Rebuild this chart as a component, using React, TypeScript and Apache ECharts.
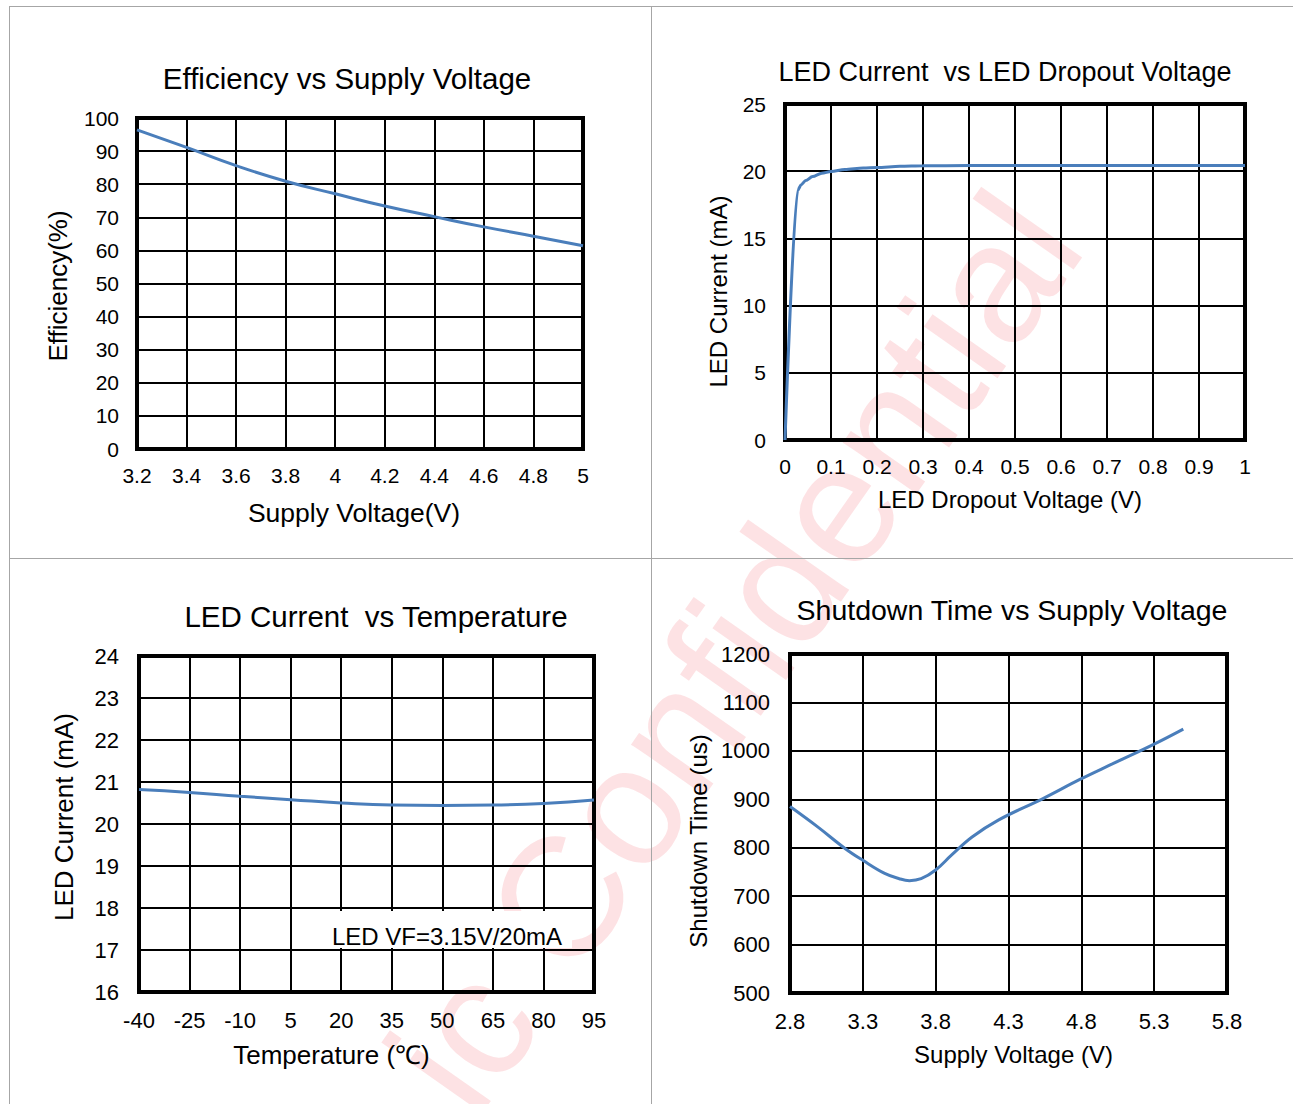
import React, { useEffect, useRef } from 'react';
import * as echarts from 'echarts';

const FONT = '"Liberation Sans", Arial, Helvetica, sans-serif';
const BLUE = '#4a7ebb';

// Chart 1: Efficiency vs Supply Voltage
const effVoltageTicks = ['3.2', '3.4', '3.6', '3.8', '4', '4.2', '4.4', '4.6', '4.8', '5'];
const efficiencyValues = [96.4, 91.1, 85.6, 80.9, 77.1, 73.4, 70.2, 67.1, 64.3, 61.4];

// Chart 2: LED Current vs LED Dropout Voltage
const dropoutVoltage = [0, 0.028, 0.035, 0.045, 0.06, 0.08, 0.1, 0.13, 0.17, 0.2, 0.25, 0.3, 0.4, 0.5, 0.6, 0.7, 0.8, 0.9, 1.0];
const dropoutCurrent = [0, 18.6, 19.0, 19.3, 19.6, 19.85, 19.98, 20.12, 20.23, 20.28, 20.36, 20.4, 20.42, 20.42, 20.42, 20.42, 20.42, 20.42, 20.42];

// Chart 3: LED Current vs Temperature
const temperatureTicks = ['-40', '-25', '-10', '5', '20', '35', '50', '65', '80', '95'];
const temperatureCurrent = [20.82, 20.75, 20.66, 20.58, 20.5, 20.45, 20.44, 20.45, 20.49, 20.57];

// Chart 4: Shutdown Time vs Supply Voltage
const supplyTicks = ['2.8', '3.3', '3.8', '4.3', '4.8', '5.3', '5.8'];
const shutdownVoltage = [2.8, 2.99, 3.18, 3.3, 3.45, 3.55, 3.62, 3.7, 3.8, 3.91, 4.05, 4.23, 4.54, 4.79, 5.02, 5.3, 5.5];
const shutdownTime = [885, 843, 798, 774, 747, 736, 732, 736, 754, 785, 822, 857, 902, 941, 974, 1014, 1045];

const titles = [
  { text: 'Efficiency vs Supply Voltage', x: 347, y: 78, size: 29.5 },
  { text: 'LED Current  vs LED Dropout Voltage', x: 1005, y: 72, size: 27 },
  { text: 'LED Current  vs Temperature', x: 376, y: 616, size: 29.5 },
  { text: 'Shutdown Time vs Supply Voltage', x: 1012, y: 610, size: 28.5 },
];

const splitLine = { show: true, interval: 0, lineStyle: { color: '#000', width: 2 } };

function nameStyle(size: number, padding: number[]) {
  return { color: '#000', fontSize: size, fontFamily: FONT, padding };
}
function labelStyle(size: number, margin: number) {
  return { color: '#000', fontSize: size, fontFamily: FONT, margin, interval: 0 };
}

function buildOption() {
  const grids = [
    { left: 137, top: 118, width: 446, height: 331 },
    { left: 785, top: 104, width: 460, height: 336 },
    { left: 139, top: 656, width: 455, height: 336 },
    { left: 790, top: 654, width: 437, height: 339 },
  ].map((g) => ({ ...g, show: true, borderColor: '#000', borderWidth: 4, backgroundColor: 'transparent' }));

  const xAxis = [
    {
      type: 'category', gridIndex: 0, data: effVoltageTicks, boundaryGap: false,
      axisLine: { show: false }, axisTick: { show: false }, splitLine,
      axisLabel: labelStyle(21, 16),
      name: 'Supply Voltage(V)', nameLocation: 'middle', nameGap: 50,
      nameTextStyle: nameStyle(26.5, [0, 12, 0, 0]),
    },
    {
      type: 'value', gridIndex: 1, min: 0, max: 1, interval: 0.1,
      axisLine: { show: false }, axisTick: { show: false }, splitLine,
      axisLabel: labelStyle(21, 16),
      name: 'LED Dropout Voltage (V)', nameLocation: 'middle', nameGap: 47,
      nameTextStyle: nameStyle(24, [0, 10, 0, 0]),
    },
    {
      type: 'category', gridIndex: 2, data: temperatureTicks, boundaryGap: false,
      axisLine: { show: false }, axisTick: { show: false }, splitLine,
      axisLabel: labelStyle(22, 17),
      name: 'Temperature (℃)', nameLocation: 'middle', nameGap: 50,
      nameTextStyle: nameStyle(26, [0, 70, 0, 0]),
    },
    {
      type: 'category', gridIndex: 3, data: supplyTicks, boundaryGap: false,
      axisLine: { show: false }, axisTick: { show: false }, splitLine,
      axisLabel: labelStyle(22, 17),
      name: 'Supply Voltage (V)', nameLocation: 'middle', nameGap: 49,
      nameTextStyle: nameStyle(24, [0, 0, 0, 10]),
    },
    {
      type: 'value', gridIndex: 3, min: 2.8, max: 5.8, show: false,
      splitLine: { show: false },
    },
  ];

  const yAxis = [
    {
      type: 'value', gridIndex: 0, min: 0, max: 100, interval: 10,
      axisLine: { show: false }, axisTick: { show: false }, splitLine,
      axisLabel: labelStyle(21, 18),
      name: 'Efficiency(%)', nameLocation: 'middle', nameGap: 66,
      nameTextStyle: nameStyle(26, [0, 5, 0, 0]),
    },
    {
      type: 'value', gridIndex: 1, min: 0, max: 25, interval: 5,
      axisLine: { show: false }, axisTick: { show: false }, splitLine,
      axisLabel: labelStyle(21, 19),
      name: 'LED Current (mA)', nameLocation: 'middle', nameGap: 55,
      nameTextStyle: nameStyle(24, [0, 39, 0, 0]),
    },
    {
      type: 'value', gridIndex: 2, min: 16, max: 24, interval: 1,
      axisLine: { show: false }, axisTick: { show: false }, splitLine,
      axisLabel: labelStyle(22, 20),
      name: 'LED Current (mA)', nameLocation: 'middle', nameGap: 62,
      nameTextStyle: nameStyle(26, [0, 0, 0, 14]),
    },
    {
      type: 'value', gridIndex: 3, min: 500, max: 1200, interval: 100,
      axisLine: { show: false }, axisTick: { show: false }, splitLine,
      axisLabel: { ...labelStyle(22, 20), formatter: (v: number) => String(v) },
      name: 'Shutdown Time (us)', nameLocation: 'middle', nameGap: 80,
      nameTextStyle: nameStyle(24, [0, 35, 0, 0]),
    },
  ];

  const lineBase = {
    type: 'line', showSymbol: false, symbol: 'none', clip: false,
    lineStyle: { color: BLUE, width: 3 }, itemStyle: { color: BLUE }, z: 3,
  };

  const series = [
    { ...lineBase, xAxisIndex: 0, yAxisIndex: 0, smooth: true, data: efficiencyValues },
    {
      ...lineBase, xAxisIndex: 1, yAxisIndex: 1, smooth: 0.3, smoothMonotone: 'x',
      data: dropoutVoltage.map((v, i) => [v, dropoutCurrent[i]]),
    },
    { ...lineBase, xAxisIndex: 2, yAxisIndex: 2, smooth: true, data: temperatureCurrent },
    {
      ...lineBase, xAxisIndex: 4, yAxisIndex: 3, smooth: 0.4,
      data: shutdownVoltage.map((v, i) => [v, shutdownTime[i]]),
    },
  ];

  const borderStyle = { stroke: '#a6a6a6', lineWidth: 1 };
  const graphic: any[] = [
    {
      type: 'text', z: -10, x: 1110, y: 263, rotation: (55 * Math.PI) / 180,
      silent: true,
      style: {
        text: 'ic Confidential', fill: 'rgba(240,30,50,0.13)',
        fontSize: 170, fontFamily: FONT, align: 'right', verticalAlign: 'bottom',
        textAlign: 'right', textVerticalAlign: 'bottom',
      },
    },
    { type: 'line', z: -5, shape: { x1: 9, y1: 6.5, x2: 1293, y2: 6.5 }, style: borderStyle },
    { type: 'line', z: -5, shape: { x1: 9.5, y1: 6, x2: 9.5, y2: 1104 }, style: borderStyle },
    { type: 'line', z: -5, shape: { x1: 651.5, y1: 6, x2: 651.5, y2: 1104 }, style: borderStyle },
    { type: 'line', z: -5, shape: { x1: 9, y1: 558.5, x2: 1293, y2: 558.5 }, style: borderStyle },
    ...titles.map((t) => ({
      type: 'text', x: t.x, y: t.y, z: 10,
      style: {
        text: t.text, fill: '#000', fontSize: t.size, fontFamily: FONT,
        align: 'center', verticalAlign: 'middle', textAlign: 'center', textVerticalAlign: 'middle',
      },
    })),
    { type: 'rect', z: 10, shape: { x: 326, y: 911, width: 246, height: 37 }, style: { fill: '#fff' } },
    {
      type: 'text', x: 447, y: 936, z: 11,
      style: {
        text: 'LED VF=3.15V/20mA', fill: '#000', fontSize: 24, fontFamily: FONT,
        align: 'center', verticalAlign: 'middle', textAlign: 'center', textVerticalAlign: 'middle',
      },
    },
  ];

  return {
    animation: false,
    backgroundColor: '#fff',
    textStyle: { fontFamily: FONT },
    grid: grids,
    xAxis,
    yAxis,
    series,
    graphic,
  };
}

export default function App() {
  const ref = useRef<HTMLDivElement>(null);
  useEffect(() => {
    if (!ref.current) return;
    const chart = echarts.init(ref.current, undefined, { renderer: 'svg' });
    chart.setOption(buildOption() as any);
    return () => chart.dispose();
  }, []);
  return (
    <div
      ref={ref}
      style={{ position: 'absolute', left: 0, top: 0, width: 1293, height: 1104, background: '#fff' }}
    />
  );
}
